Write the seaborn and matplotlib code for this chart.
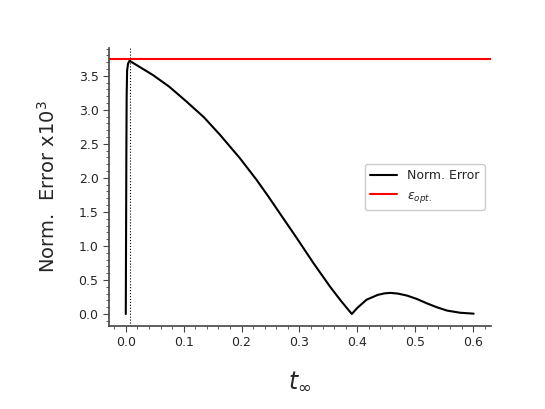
import numpy as np
import pandas as pd
import matplotlib
matplotlib.use("Agg")
import matplotlib.pyplot as plt
from matplotlib.ticker import MultipleLocator
import seaborn as sns

# values (error in units of 1e-3)
t_inf = [0.0, 0.0005, 0.001, 0.0015, 0.0023, 0.004, 0.0065, 0.02, 0.047,
         0.075, 0.105, 0.135, 0.163, 0.180, 0.197, 0.226, 0.246, 0.266,
         0.295, 0.324, 0.353, 0.372, 0.3905, 0.40, 0.416, 0.435, 0.447,
         0.457, 0.47, 0.486, 0.503, 0.520, 0.537, 0.555, 0.578, 0.601]
norm_err = [0.0, 1.2, 2.4, 3.2, 3.58, 3.68, 3.72, 3.65, 3.51,
            3.34, 3.12, 2.89, 2.63, 2.46, 2.29, 1.97, 1.73, 1.48,
            1.12, 0.75, 0.40, 0.19, 0.0, 0.09, 0.21, 0.28, 0.303,
            0.31, 0.30, 0.27, 0.22, 0.157, 0.10, 0.05, 0.018, 0.005]
eps_opt = 3.75
t_opt = 0.0065

df = pd.DataFrame({"t": t_inf, "err": norm_err})

sns.set_style("ticks")
fig = plt.figure(figsize=(5.45, 4.09), dpi=100)
ax = fig.add_axes([0.2, 0.203, 0.701, 0.680])

sns.lineplot(data=df, x="t", y="err", color="black", lw=1.5,
             label="Norm. Error", ax=ax, sort=False)
ax.axhline(eps_opt, color="red", lw=1.5, label=r"$\epsilon_{opt.}$")
ax.axvline(t_opt, color="black", lw=0.8, ls=":")

ax.set_xlim(-0.029, 0.631)
ax.set_ylim(-0.176, 3.91)
ax.xaxis.set_major_locator(MultipleLocator(0.1))
ax.xaxis.set_minor_locator(MultipleLocator(0.02))
ax.yaxis.set_major_locator(MultipleLocator(0.5))
ax.yaxis.set_minor_locator(MultipleLocator(0.1))
ax.tick_params(which="major", labelsize=9, length=4, color="#444444")
ax.tick_params(which="minor", length=2, color="#444444")

sns.despine(ax=ax)
for s in ["left", "bottom"]:
    ax.spines[s].set_color("#444444")
    ax.spines[s].set_linewidth(1.2)

ax.set_xlabel(r"$t_{\infty}$", fontsize=17, labelpad=14)
ax.set_ylabel(r"Norm.  Error x$10^3$", fontsize=14, labelpad=14)

ax.legend(loc="center right", fontsize=9, framealpha=1, handlelength=2.2)

fig.savefig("out.png", dpi=100)
